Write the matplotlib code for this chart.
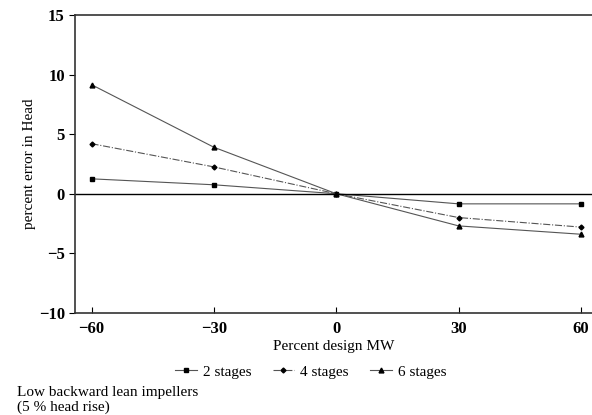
import matplotlib.pyplot as plt

# Data
percent_mw = [-60, -30, 0, 30, 60]
err_2_stages = [1.25, 0.75, 0.0, -0.85, -0.85]
err_4_stages = [4.2, 2.25, 0.0, -2.0, -2.8]
err_6_stages = [9.15, 3.9, 0.0, -2.7, -3.4]
series_labels = ["2 stages", "4 stages", "6 stages"]

plt.rcParams['font.family'] = ['Liberation Serif', 'DejaVu Serif']

fig = plt.figure(figsize=(5.92, 4.15), dpi=100)
ax = fig.add_axes([0.127, 0.246, 0.873, 0.718])

line_kw = dict(color='#555555', linewidth=0.8)
ax.plot(percent_mw, err_2_stages, marker='s', markersize=3.5, markerfacecolor='black',
        markeredgecolor='black', linestyle='-', label=series_labels[0], **line_kw)
ax.plot(percent_mw, err_4_stages, marker='D', markersize=2.5, markerfacecolor='black',
        markeredgecolor='black', linestyle='-.', label=series_labels[1], **line_kw)
ax.plot(percent_mw, err_6_stages, marker='^', markersize=3.5, markerfacecolor='black',
        markeredgecolor='black', linestyle='-', label=series_labels[2], **line_kw)

ax.axhline(0, color='black', linewidth=1.0)

ax.set_xlim(-64, 62.7)
ax.set_ylim(-10, 15)
ax.set_xticks([-60, -30, 0, 30, 60])
ax.set_xticklabels(['\u221260', '\u221230', '0', '30', '60'])
ax.set_yticks([-10, -5, 0, 5, 10, 15])
ax.set_yticklabels(['\u221210', '\u22125', '0', '5', '10', '15'])
ax.tick_params(axis='x', direction='in', length=4, labelsize=12, pad=6)
ax.tick_params(axis='y', direction='out', length=4, labelsize=12)
for lbl in ax.get_xticklabels() + ax.get_yticklabels():
    lbl.set_fontweight('bold')

ax.spines['right'].set_visible(False)
for s in ['left', 'top', 'bottom']:
    ax.spines[s].set_linewidth(1.2)
    ax.spines[s].set_color('#333333')

ax.set_xlabel("Percent design MW", fontsize=11, labelpad=2)
ax.set_ylabel("percent error in Head", fontsize=11, labelpad=2)

fig.legend(loc='center', bbox_to_anchor=(0.525, 0.104), ncol=3, frameon=False,
           fontsize=11, handlelength=1.4, handletextpad=0.4, columnspacing=1.4)

fig.text(0.028, 0.055, "Low backward lean impellers", fontsize=11, va='center')
fig.text(0.028, 0.019, "(5 % head rise)", fontsize=11, va='center')

fig.savefig("out.png", dpi=100)
